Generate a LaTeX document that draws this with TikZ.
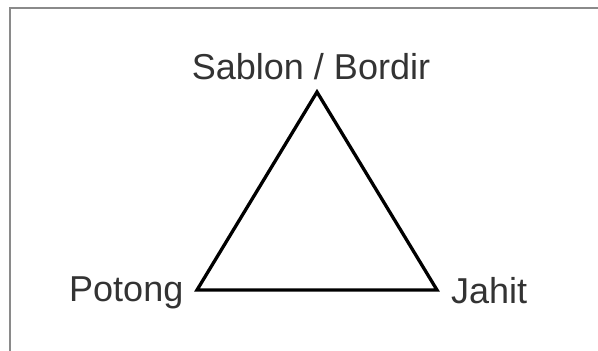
\documentclass[tikz,border=0pt]{standalone}
\usepackage{fontspec}
\setmainfont{Liberation Sans}
\definecolor{txt}{HTML}{333333}
\definecolor{frame}{HTML}{8A8A8A}
\begin{document}
\begin{tikzpicture}[x=1pt,y=-1pt,
  lbl/.style={inner sep=0pt,text=txt,font=\fontsize{36}{43}\selectfont},
  tri/.style={draw=black,line width=3.3pt,line join=miter},
  framel/.style={draw=frame,line width=2pt}]
\useasboundingbox[fill=white] (0,0) rectangle (598,351);
\coordinate (ftr) at (599,7.5);
\coordinate (ftl) at (9.5,7.5);
\coordinate (fbl) at (9.5,352);
\draw[framel] (ftr) -- (ftl) -- (fbl);
\coordinate (top) at (317,92);
\coordinate (left) at (197,290);
\coordinate (right) at (437,290);
\draw[tri] (top) -- (left) -- (right) -- cycle;
\node[lbl,anchor=base] (sablon) at (311,79) {Sablon / Bordir};
\node[lbl,anchor=base west] (potong) at (69,301) {Potong};
\node[lbl,anchor=base west] (jahit) at (451,303) {Jahit};
\end{tikzpicture}
\end{document}
